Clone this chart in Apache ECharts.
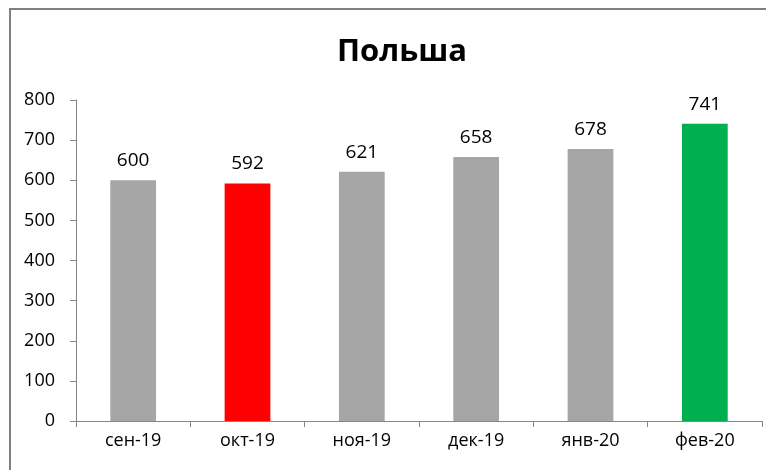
<!DOCTYPE html>
<html>
<head>
<meta charset="UTF-8">
<title>Польша</title>
<style>
  * { margin: 0; padding: 0; }
  html, body { width: 100%; height: 100%; background: #fff; }
  #chart { width: 766px; height: 470px; }
</style>
</head>
<body>
<div id="chart"></div>
<script src="https://cdn.jsdelivr.net/npm/echarts@6/dist/echarts.min.js"></script>
<script>
var categories = ['сен-19', 'окт-19', 'ноя-19', 'дек-19', 'янв-20', 'фев-20'];
var values = [600, 592, 621, 658, 678, 741];
var barColors = ['#a6a6a6', '#ff0000', '#a6a6a6', '#a6a6a6', '#a6a6a6', '#00b050'];

var myChart = echarts.init(document.getElementById('chart'));
var font = 'Open Sans, Liberation Sans, sans-serif';

var seriesData = values.map(function (v, i) {
    return { value: v, itemStyle: { color: barColors[i] } };
});

var option = {
    animation: false,
    title: {
        text: 'Польша',
        left: 397,
        top: 32,
        textAlign: 'center',
        textStyle: { fontFamily: font, fontSize: 31, fontWeight: 'bold', color: '#000' }
    },
    graphic: [{
        type: 'rect',
        shape: { x: 10, y: 9, width: 800, height: 500 },
        style: { fill: 'none', stroke: '#808080', lineWidth: 2 },
        silent: true
    }],
    grid: { left: 76, right: 4, top: 100, bottom: 49 },
    xAxis: {
        type: 'category',
        data: categories,
        axisLine: { lineStyle: { color: '#868686', width: 1 } },
        axisTick: { show: true, length: 6, lineStyle: { color: '#868686' } },
        axisLabel: { fontFamily: font, fontSize: 18, color: '#000', margin: 11 }
    },
    yAxis: {
        type: 'value',
        min: 0,
        max: 800,
        interval: 100,
        axisLine: { show: true, lineStyle: { color: '#868686', width: 1 } },
        axisTick: { show: true, length: 6, lineStyle: { color: '#868686' } },
        splitLine: { show: false },
        axisLabel: { fontFamily: font, fontSize: 18, color: '#000', margin: 21 }
    },
    series: [{
        type: 'bar',
        data: seriesData,
        barWidth: '40%',
        label: {
            show: true,
            position: 'top',
            distance: 10,
            fontFamily: font,
            fontSize: 19,
            color: '#000'
        }
    }]
};
myChart.setOption(option);
</script>
</body>
</html>
